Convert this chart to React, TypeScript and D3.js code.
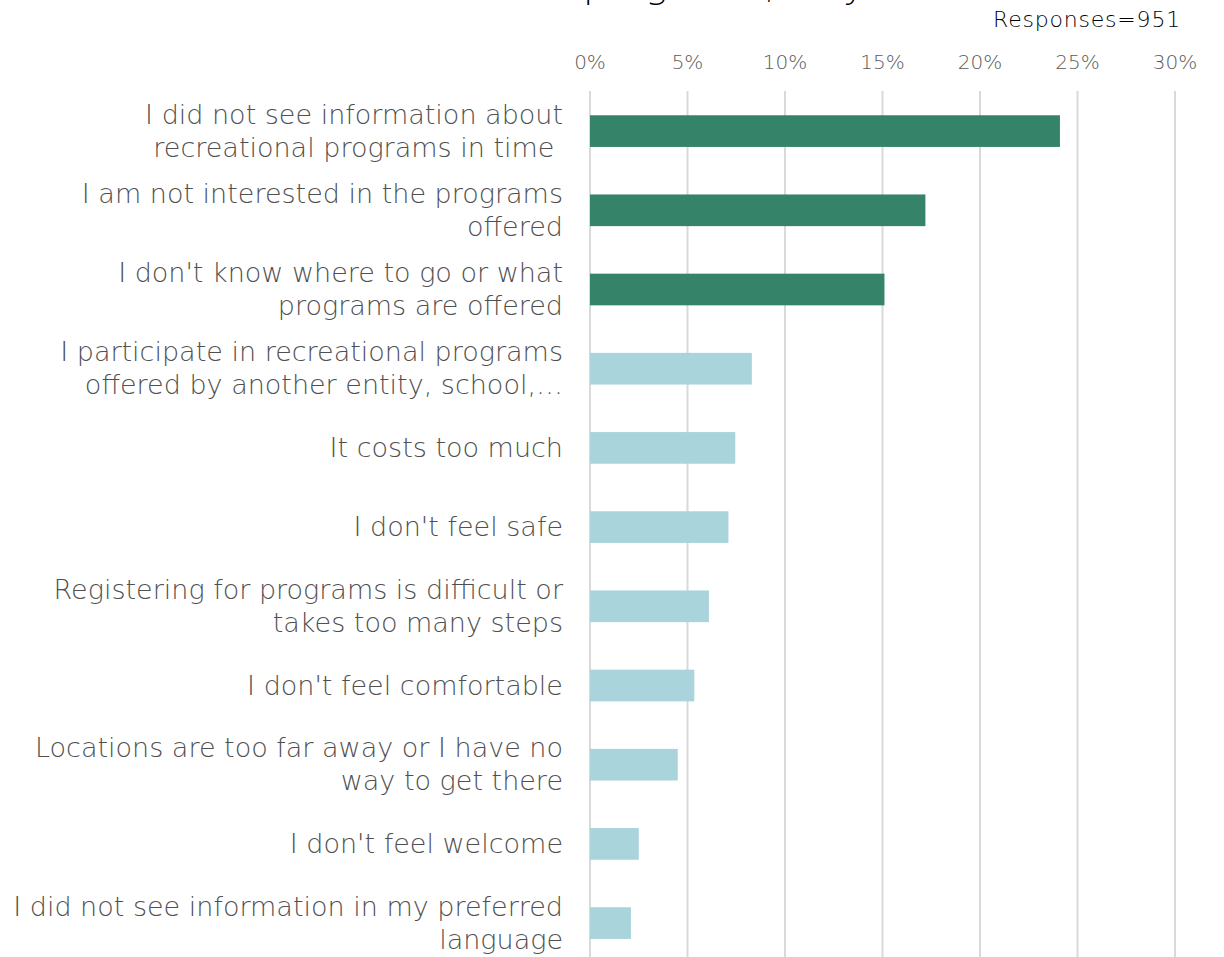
import { useEffect, useRef } from "react";
import * as d3 from "d3";

const categories: string[][] = [
  ["I did not see information about", "recreational programs in time "],
  ["I am not interested in the programs", "offered"],
  ["I don't know where to go or what", "programs are offered"],
  ["I participate in recreational programs", "offered by another entity, school,…"],
  ["It costs too much"],
  ["I don't feel safe"],
  ["Registering for programs is difficult or", "takes too many steps"],
  ["I don't feel comfortable"],
  ["Locations are too far away or I have no", "way to get there"],
  ["I don't feel welcome"],
  ["I did not see information in my preferred", "language"],
];
const values = [24.1, 17.2, 15.1, 8.3, 7.45, 7.1, 6.1, 5.35, 4.5, 2.5, 2.1];
const highlighted = [true, true, true, false, false, false, false, false, false, false, false];
const ticks = [0, 5, 10, 15, 20, 25, 30];
const titleText = "in recreational programs, why not?";
const responsesText = "Responses=951";

const W = 1224;
const H = 957;
const FONT = "'DejaVu Sans', sans-serif";

const App = () => {
  const svgRef = useRef<SVGSVGElement>(null);

  useEffect(() => {
    const svg = d3.select(svgRef.current);
    svg.selectAll("*").remove();

    const x = d3.scaleLinear().domain([0, 30]).range([590, 1175]);
    const y = d3
      .scaleBand<number>()
      .domain(d3.range(values.length))
      .range([91.5, 962.7])
      .paddingInner(0.6)
      .paddingOuter(0.3);

    // title, mostly clipped off the top like in the source image
    const title = svg
      .append("text")
      .attr("y", -2)
      .style("font-family", FONT)
      .style("font-size", "38px")
      .style("font-weight", 200)
      .attr("fill", "#000")
      .text(titleText);
    const probe = svg
      .append("text")
      .style("font-family", FONT)
      .style("font-size", "38px")
      .style("font-weight", 200)
      .style("white-space", "pre")
      .text("in recreational ");
    const prefixW = (probe.node() as SVGTextElement).getComputedTextLength();
    probe.remove();
    title.attr("x", 583 - prefixW);

    svg
      .append("text")
      .attr("x", 1181)
      .attr("y", 27)
      .attr("text-anchor", "end")
      .style("font-family", FONT)
      .style("font-size", "22px")
      .style("font-weight", 200)
      .style("letter-spacing", "0.8px")
      .attr("fill", "#000")
      .text(responsesText);

    // gridlines
    svg
      .append("g")
      .selectAll("line")
      .data(ticks)
      .join("line")
      .attr("x1", (d) => x(d))
      .attr("x2", (d) => x(d))
      .attr("y1", 91)
      .attr("y2", H)
      .attr("stroke", "#d9d9d9")
      .attr("stroke-width", 2);

    svg
      .append("g")
      .selectAll("text")
      .data(ticks)
      .join("text")
      .attr("x", (d) => x(d))
      .attr("y", 69)
      .attr("text-anchor", "middle")
      .style("font-family", FONT)
      .style("font-size", "20px")
      .style("font-weight", 200)
      .attr("fill", "#595959")
      .text((d) => `${d}%`);

    // bars
    svg
      .append("g")
      .selectAll("rect")
      .data(values)
      .join("rect")
      .attr("x", x(0))
      .attr("y", (d, i) => y(i)!)
      .attr("width", (d) => x(d) - x(0))
      .attr("height", y.bandwidth())
      .attr("fill", (d, i) => (highlighted[i] ? "#35846a" : "#aad4db"));

    // category labels
    const lineH = 33;
    const labels = svg
      .append("g")
      .selectAll("text")
      .data(categories)
      .join("text")
      .attr("text-anchor", "end")
      .style("font-family", FONT)
      .style("font-size", "27px")
      .style("font-weight", 200)
      .style("white-space", "pre")
      .attr("fill", "#505050");
    labels.each(function (lines, i) {
      const cy = y(i)! + y.bandwidth() / 2;
      d3.select(this)
        .selectAll("tspan")
        .data(lines)
        .join("tspan")
        .attr("x", 563)
        .attr("y", (d, j) => cy + 9 + (j - (lines.length - 1) / 2) * lineH)
        .text((d) => d);
    });
  }, []);

  return (
    <div style={{ position: "absolute", left: 0, top: 0 }}>
      <svg ref={svgRef} width={W} height={H} style={{ display: "block", background: "#fff" }} />
    </div>
  );
};

export default App;
